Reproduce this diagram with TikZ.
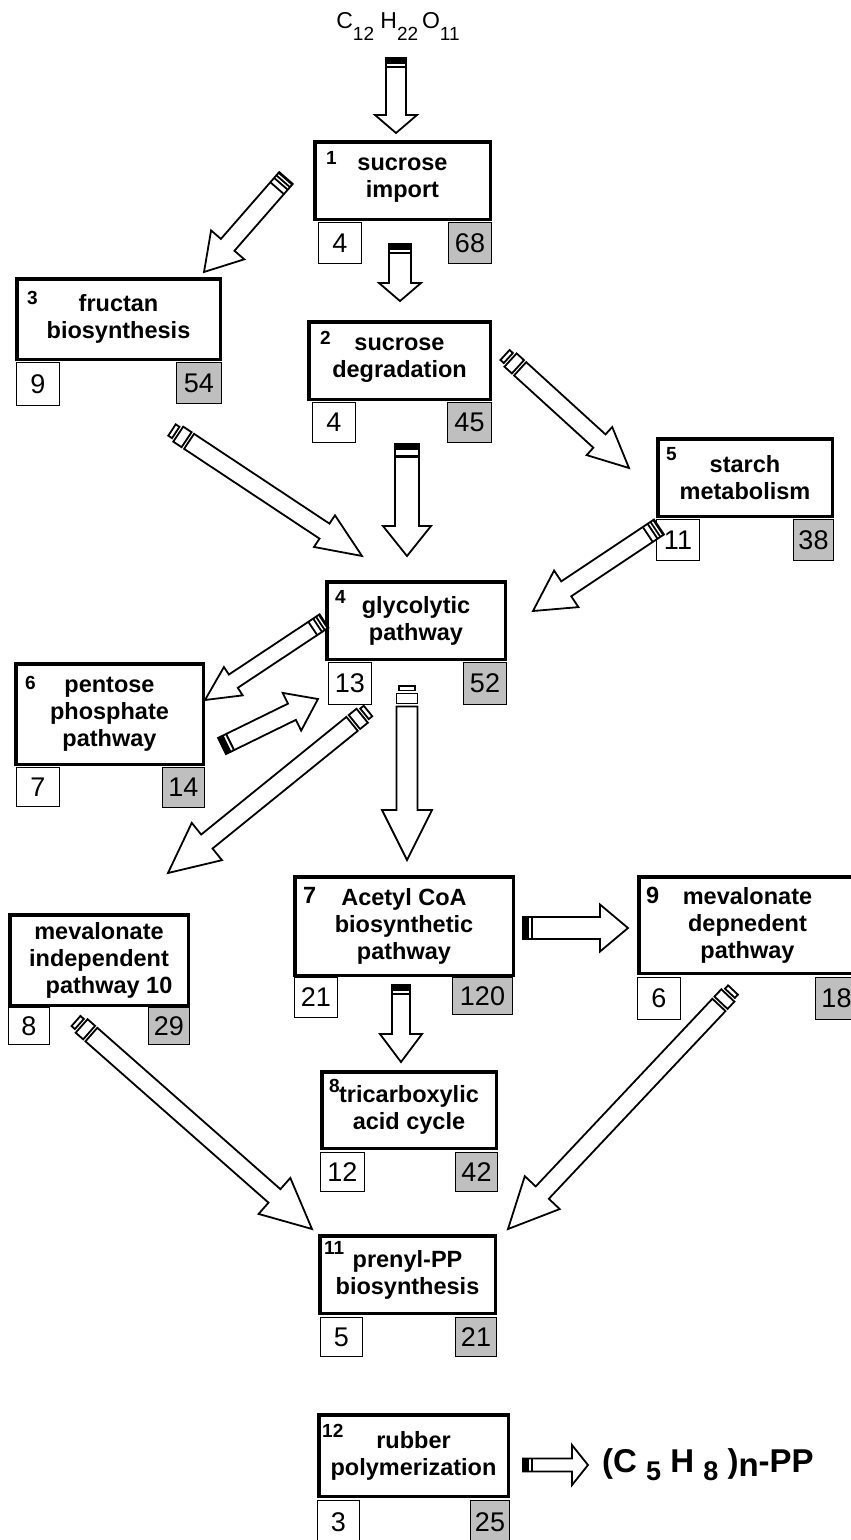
\documentclass[tikz,border=0pt]{standalone}
\usepackage{fontspec}
\setmainfont{Liberation Sans}
\usetikzlibrary{calc}
\newcommand\lowsub[3]{\raisebox{-#1}{\fontsize{#2}{#2}\selectfont #3}}
\newcommand\pwbox[6]{\node[mainbox, minimum width={#4-#2-3.5}, minimum height={#5-#3-3.5}] (#1) at ({(#2+#4)/2},{(#3+#5)/2}) {#6};}
\newcommand\nbox[7]{\node[#1, minimum width={#5-#3-1.2}, minimum height={#6-#4-1.2}] (#2) at ({(#3+#5)/2},{(#4+#6)/2}) {#7};}
\newcommand\bashaft[1]{\draw[arrowline] (#1,-\baw) -- (\bab,-\baw) -- (\bab,-\bahw) -- (\balen,0) -- (\bab,\bahw) -- (\bab,\baw) -- (#1,\baw) -- cycle;}
\newcommand\tailD{\bashaft{0}\fill (0,-\baw) rectangle (6,\baw);\fill (8,-\baw) rectangle (10,\baw);}
\newcommand\tailE{\bashaft{0}\fill (0,-\baw) rectangle (6,\baw);\fill (11,-\baw) rectangle (13.5,\baw);}
\newcommand\tailS{\bashaft{0}\fill (0,-\baw) rectangle (1.8,\baw);\fill (3.4,-\baw) rectangle (5.2,\baw);\fill (6.8,-\baw) rectangle (8.6,\baw);\fill (12.6,-\baw) rectangle (14.4,\baw);}
\newcommand\tailB{\pgfmathsetmacro\bans{0.75*\baw}\draw[arrowline] (0,-\bans) rectangle (4.5,\bans);\draw[arrowline] (7.5,-\baw) rectangle (17.5,\baw);\bashaft{20.5}}
\newcommand\blockarrow[6]{%
  \pgfpointdiff{\pgfpointanchor{#1}{center}}{\pgfpointanchor{#2}{center}}%
  \pgfgetlastxy{\badx}{\bady}%
  \pgfmathsetmacro\baang{atan2(\bady,\badx)}%
  \pgfmathsetmacro\balen{veclen(\badx,\bady)}%
  \begin{scope}[shift={(#1)},rotate=\baang]
    \def\baw{#3}\def\bahw{#4}%
    \pgfmathsetmacro\bab{\balen-#5}%
    \csname tail#6\endcsname
  \end{scope}}
\tikzset{
  mainbox/.style={draw, line width=3.5pt, fill=white, inner sep=0pt, align=center, font=\fontsize{23.5}{27}\selectfont\bfseries},
  numbox/.style={draw, line width=1.2pt, fill=white, inner sep=0pt, font=\fontsize{27}{30}\selectfont},
  graybox/.style={numbox, fill=black!25},
  idx/.style={inner sep=0pt, anchor=north west, font=\fontsize{19}{20}\selectfont\bfseries},
  idxbig/.style={inner sep=0pt, anchor=base west, font=\fontsize{23.5}{27}\selectfont\bfseries},
  arrowline/.style={draw, line width=1.8pt, fill=white, line join=miter},
}
\begin{document}
\begin{tikzpicture}[x=1pt,y=-1pt]
\useasboundingbox[fill=white] (0,0) rectangle (851,1540);
% boxes
\pwbox{b1}{313}{140}{492}{221}{sucrose\\import}
\nbox{numbox}{b1l}{318}{222}{362}{264}{4}
\nbox{graybox}{b1r}{448}{222}{492}{264}{68}
\node[idx] (i1) at (326,151) {1};

\pwbox{b3}{15}{277}{222}{361}{fructan\\biosynthesis}
\nbox{numbox}{b3l}{16}{362}{60}{406}{9}
\nbox{graybox}{b3r}{176}{362}{222}{404}{54}
\node[idx] (i3) at (27,291) {3};

\pwbox{b2}{307}{320}{492}{401}{sucrose\\degradation}
\nbox{numbox}{b2l}{312}{402}{356}{443}{4}
\nbox{graybox}{b2r}{447}{402}{492}{443}{45}
\node[idx] (i2) at (320,331) {2};

\pwbox{b5}{656}{437}{834}{518}{starch\\metabolism}
\nbox{numbox}{b5l}{656}{519}{700}{561}{11}
\nbox{graybox}{b5r}{793}{519}{834}{561}{38}
\node[idx] (i5) at (666,447) {5};

\pwbox{b4}{325}{580}{507}{661}{glycolytic\\pathway}
\nbox{numbox}{b4l}{328}{662}{372}{705}{13}
\nbox{graybox}{b4r}{463}{662}{507}{705}{52}
\node[idx] (i4) at (335,590) {4};

\pwbox{b6}{14}{662}{205}{766}{pentose\\phosphate\\pathway}
\nbox{numbox}{b6l}{16}{767}{60}{807}{7}
\nbox{graybox}{b6r}{162}{767}{205}{808}{14}
\node[idxbig, font=\fontsize{19}{22}\selectfont\bfseries] (i6) at (25,689) {6};

\pwbox{b7}{293}{875}{515}{977}{Acetyl CoA\\biosynthetic\\pathway}
\nbox{numbox}{b7l}{294}{977}{338}{1018}{21}
\nbox{graybox}{b7r}{452}{977}{513}{1015}{120}
\node[idxbig] (i7) at (303,903) {7};

\pwbox{b9}{637}{875}{858}{975}{mevalonate\\depnedent\\pathway}
\nbox{numbox}{b9l}{637}{977}{681}{1020}{6}
\nbox{graybox}{b9r}{815}{977}{858}{1020}{18}
\node[idxbig] (i9) at (646,903) {9};

\pwbox{b10}{8}{913}{190}{1007}{mevalonate\\independent\\\hspace*{20pt}pathway 10}
\nbox{numbox}{b10l}{8}{1007}{50}{1045}{8}
\nbox{graybox}{b10r}{148}{1007}{190}{1045}{29}

\pwbox{b8}{320}{1070}{498}{1150}{tricarboxylic\\acid cycle}
\nbox{numbox}{b8l}{320}{1152}{365}{1192}{12}
\nbox{graybox}{b8r}{455}{1152}{498}{1192}{42}
\node[idx] (i8) at (329,1079) {8};

\pwbox{b11}{318}{1234}{497}{1315}{prenyl-PP\\biosynthesis}
\nbox{numbox}{b11l}{320}{1317}{363}{1357}{5}
\nbox{graybox}{b11r}{455}{1317}{497}{1357}{21}
\node[idx] (i11) at (324,1241) {11};

\pwbox{b12}{317}{1413}{510}{1498}{rubber\\polymerization}
\nbox{numbox}{b12l}{317}{1500}{360}{1545}{3}
\nbox{graybox}{b12r}{470}{1500}{510}{1545}{25}
\node[idx] (i12) at (322,1424) {12};

% texts
\node[inner sep=0pt, anchor=base, font=\fontsize{23}{26}\selectfont] (suc) at (398,28) {C\lowsub{12pt}{19}{12} H\lowsub{12pt}{19}{22}\,O\lowsub{12pt}{19}{11}};
\node[inner sep=0pt, anchor=base west, font=\fontsize{33}{36}\selectfont\bfseries] (poly) at (602,1472) {(C \lowsub{8pt}{27}{5} H \lowsub{8pt}{27}{8} )\raisebox{-4pt}{n}-PP};

% arrow end points
\coordinate (a0s) at (396,58);   \coordinate (a0e) at (396,133);
\coordinate (a13s) at (286,178); \coordinate (a13e) at (204,272);
\coordinate (a12s) at (400,244); \coordinate (a12e) at (400,301);
\coordinate (a34s) at (172,430); \coordinate (a34e) at (362,556);
\coordinate (a25s) at (505,355); \coordinate (a25e) at (629,468);
\coordinate (a24s) at (407,444); \coordinate (a24e) at (407,556);
\coordinate (a54s) at (659,527); \coordinate (a54e) at (533,611);
\coordinate (a46s) at (324,621); \coordinate (a46e) at (205,700);
\coordinate (a64s) at (222,746); \coordinate (a64e) at (318,699);
\coordinate (a410s) at (368,711); \coordinate (a410e) at (168,873);
\coordinate (a47s) at (407,686); \coordinate (a47e) at (407,860);
\coordinate (a79s) at (523,928); \coordinate (a79e) at (628,928);
\coordinate (a78s) at (401,985); \coordinate (a78e) at (401,1062);
\coordinate (a1011s) at (76,1021); \coordinate (a1011e) at (312,1229);
\coordinate (a911s) at (733,990); \coordinate (a911e) at (508,1229);
\coordinate (aouts) at (523,1465); \coordinate (aoute) at (588,1465);

% arrows
\blockarrow{a0s}{a0e}{10}{21}{18}{D}
\blockarrow{a13s}{a13e}{9}{22}{36}{S}
\blockarrow{a12s}{a12e}{11}{21}{18}{D}
\blockarrow{a34s}{a34e}{9}{19}{45}{B}
\blockarrow{a25s}{a25e}{9}{19}{40}{B}
\blockarrow{a24s}{a24e}{12}{24}{30}{E}
\blockarrow{a54s}{a54e}{9}{22}{40}{S}
\blockarrow{a46s}{a46e}{8}{17}{34}{S}
\blockarrow{a64s}{a64e}{9}{21}{29}{D}
\blockarrow{a410s}{a410e}{9}{24}{50}{B}
\blockarrow{a47s}{a47e}{10.5}{25}{50}{B}
\blockarrow{a79s}{a79e}{11}{23.5}{28}{D}
\blockarrow{a78s}{a78e}{9}{21}{28}{D}
\blockarrow{a1011s}{a1011e}{9}{24}{50}{B}
\blockarrow{a911s}{a911e}{9}{24}{50}{B}
\blockarrow{aouts}{aoute}{6.5}{20}{16}{D}
\end{tikzpicture}
\end{document}
